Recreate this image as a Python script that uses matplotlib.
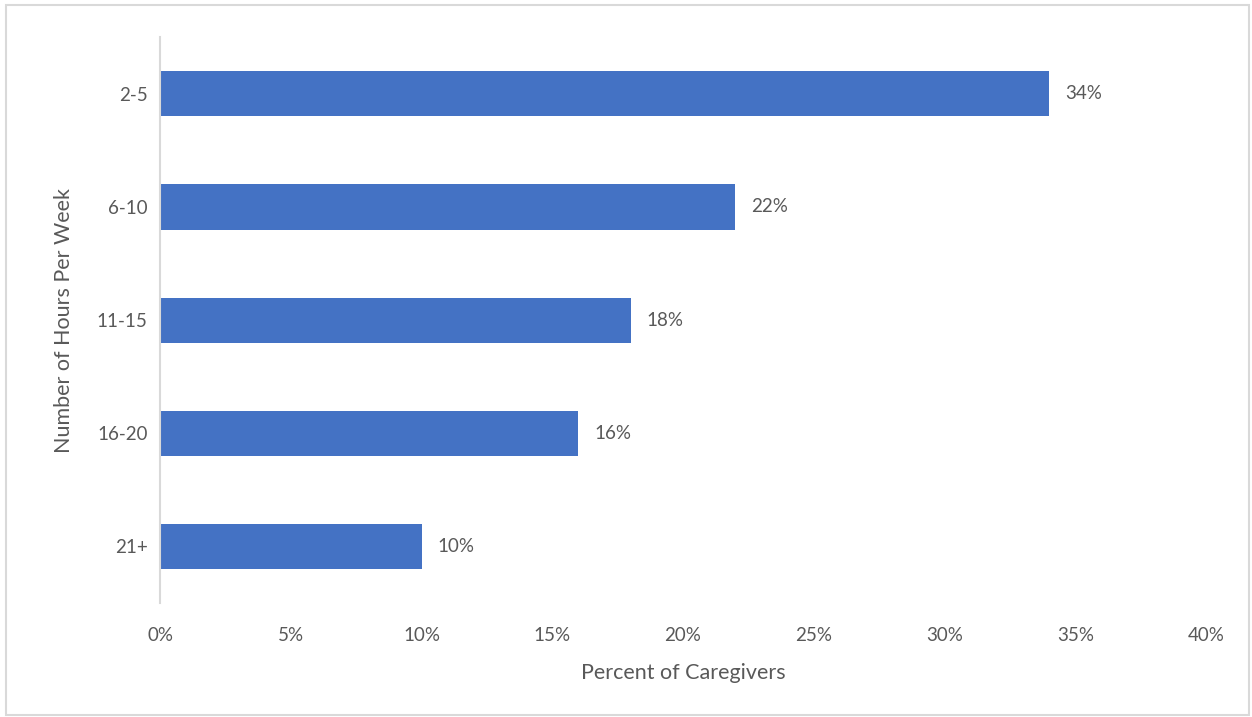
import matplotlib
matplotlib.use("Agg")
import matplotlib.pyplot as plt
from matplotlib.patches import Rectangle
from matplotlib.ticker import FuncFormatter

categories = ["2-5", "6-10", "11-15", "16-20", "21+"]
percents = [34, 22, 18, 16, 10]
x_ticks = [0, 5, 10, 15, 20, 25, 30, 35, 40]

TEXT = "#595959"
BAR = "#4472C4"
LINE = "#D9D9D9"

plt.rcParams["font.family"] = ["Lato", "DejaVu Sans"]

fig = plt.figure(figsize=(12.52, 7.17), dpi=100)
ax = fig.add_axes([0.1278, 0.159, 0.8355, 0.789])

y = list(range(len(categories)))
ax.barh(y, percents, height=0.4, color=BAR)
ax.set_ylim(len(categories) - 0.5, -0.5)
ax.set_xlim(0, 40)

for yi, v in zip(y, percents):
    ax.text(v + 0.6, yi, f"{v}%", va="center", ha="left", fontsize=13.5, color=TEXT)

ax.set_yticks(y)
ax.set_yticklabels(categories)
ax.set_xticks(x_ticks)
ax.xaxis.set_major_formatter(FuncFormatter(lambda v, p: f"{int(v)}%"))
ax.tick_params(axis="both", length=0, labelsize=13.5, colors=TEXT)
ax.tick_params(axis="y", pad=9)
ax.tick_params(axis="x", pad=17)

for s in ["top", "right", "bottom"]:
    ax.spines[s].set_visible(False)
ax.spines["left"].set_color(LINE)
ax.spines["left"].set_linewidth(1.5)

ax.set_xlabel("Percent of Caregivers", fontsize=15.5, color=TEXT, labelpad=14)
ax.set_ylabel("Number of Hours Per Week", fontsize=15.5, color=TEXT, labelpad=16)

fig.patches.append(Rectangle((6 / 1252, 2 / 717), 1243 / 1252, 710 / 717,
                             transform=fig.transFigure, fill=False,
                             edgecolor=LINE, linewidth=1.5))

fig.savefig("out.png", dpi=100)
